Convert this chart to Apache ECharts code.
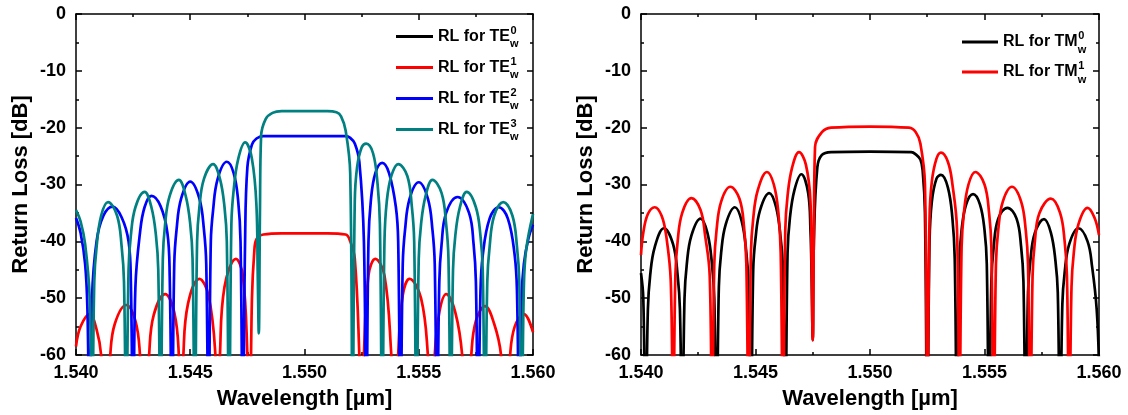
<!DOCTYPE html>
<html><head><meta charset="utf-8">
<script src="https://cdn.jsdelivr.net/npm/echarts@6/dist/echarts.min.js"></script>
<style>html,body{margin:0;padding:0;background:#fff}#c{width:1128px;height:415px}</style>
</head><body><div id="c"></div>
<script>
// ---------- data (wavelength in µm, return loss in dB) ----------
const xTicks = [1.540, 1.545, 1.550, 1.555, 1.560];
const yTicks = [-60, -50, -40, -30, -20, -10, 0];

// Left panel: TE modes
const te0X = [];   // TE0 curve lies below -60 dB: not visible in the reference
const te0Y = [];

const te1X = [1.5400,1.5402,1.5406,1.5409,1.5411,1.5413,
 1.5415,1.5417,1.5422,1.5426,1.5428,1.5430,
 1.5432,1.5434,1.5439,1.5443,1.5445,1.5446,
 1.5447,1.5449,1.5454,1.5458,1.5461,1.5462,
 1.5463,1.5465,1.5470,1.5473,1.5475,1.5476,
 1.5477,1.5478,1.5479,1.5482,1.5490,1.5510,1.5518,1.5520,1.5522,1.5524,1.5525,
 1.5526,1.5528,1.5531,1.5535,1.5538,1.5540,
 1.5541,1.5543,1.5546,1.5551,1.5554,1.5556,
 1.5557,1.5559,1.5562,1.5566,1.5569,1.5571,
 1.5573,1.5575,1.5579,1.5583,1.5586,1.5588,
 1.5590,1.5592,1.5596,1.5600];
const te1Y = [-58.5,-55,-52.8,-55.5,-60,-75,
 -60,-54.5,-51.2,-54,-60,-75,
 -60,-53,-49.3,-52.5,-60,-75,
 -60,-51,-46.6,-49.5,-60,-75,
 -60,-48,-43.1,-46,-60,-75,
 -50,-42,-39.6,-38.8,-38.6,-38.6,-38.8,-40,-43,-60,-75,
 -60,-46,-43.1,-46,-60,-75,
 -60,-49.5,-46.6,-50,-60,-75,
 -60,-52.5,-49.3,-52.5,-60,-75,
 -60,-54,-51.4,-54.5,-60,-75,
 -60,-55,-52.8,-56];

const te2X = [1.5400,1.5402,1.5404,1.5405,1.5406,
 1.5407,1.5409,1.5412,1.5416,1.5420,1.5423,1.5424,1.5425,
 1.5426,1.5428,1.5430,1.5433,1.5437,1.5440,1.5441,1.5442,
 1.5443,1.5444,1.5446,1.5450,1.5454,1.5456,1.5457,1.5458,
 1.5459,1.5460,1.5462,1.5466,1.5469,1.5471,1.5472,1.5473,
 1.5474,1.5475,1.5477,1.5479,1.5482,1.5500,1.5518,1.5520,1.5522,1.5524,1.5526,1.5527,
 1.5528,1.5529,1.5531,1.5534,1.5537,1.5540,1.5541,1.5542,
 1.5543,1.5544,1.5546,1.5550,1.5554,1.5556,1.5557,1.5558,
 1.5559,1.5560,1.5562,1.5567,1.5572,1.5574,1.5575,1.5576,
 1.5577,1.5578,1.5581,1.5585,1.5589,1.5592,1.5593,1.5594,
 1.5595,1.5596,1.5598,1.5600];
const te2Y = [-35.9,-38.5,-44,-52,-75,
 -50,-40,-35.5,-33.9,-35.8,-40,-47,-75,
 -48,-38.5,-34,-32.0,-33.8,-38.5,-46,-75,
 -44,-38,-32.5,-29.5,-32.5,-38,-44,-75,
 -40,-34.5,-29,-26.0,-28,-33,-40,-75,
 -40,-27,-23,-21.9,-21.5,-21.5,-21.5,-21.8,-22.8,-26,-40,-75,
 -40,-33,-28,-26.2,-28,-34,-40,-75,
 -44,-38,-32.5,-29.6,-32.5,-38,-44,-75,
 -47,-40.5,-35,-32.2,-35,-40.5,-47,-75,
 -49,-42.5,-36,-34.0,-36,-42.5,-49,-75,
 -50,-44,-39.5,-37.1];

const te3X = [1.5400,1.5402,1.5404,1.5406,1.5407,
 1.5408,1.5409,1.5411,1.5414,1.5418,1.5420,1.5421,1.5422,
 1.5423,1.5424,1.5426,1.5430,1.5433,1.5435,1.5436,1.5437,
 1.5438,1.5439,1.5441,1.5445,1.5448,1.5450,1.5451,1.5452,
 1.5453,1.5454,1.5456,1.5460,1.5463,1.5465,1.5466,1.5467,
 1.5468,1.5469,1.5471,1.5474,1.5477,1.5479,1.54795,1.5480,
 1.54805,1.5481,1.5483,1.5486,1.5490,1.5510,1.5514,1.5516,1.5518,1.5520,1.5521,
 1.5522,1.5523,1.5525,1.5527,1.5530,1.5532,1.5533,1.5534,
 1.5535,1.5536,1.5538,1.5541,1.5545,1.5547,1.5548,1.5549,
 1.5550,1.5551,1.5553,1.5556,1.5560,1.5562,1.5563,1.5564,
 1.5565,1.5566,1.5568,1.5571,1.5575,1.5577,1.5578,1.5579,
 1.5580,1.5581,1.5583,1.5587,1.5591,1.5593,1.5594,1.5595,
 1.5596,1.5597,1.5600];
const te3Y = [-34.5,-36.5,-40.5,-50,-75,
 -47,-41,-35.5,-33.1,-35.5,-41,-47,-75,
 -45,-39,-34,-31.3,-34,-39,-45,-75,
 -43,-37,-32,-29.2,-32,-37,-43,-75,
 -40,-34,-29,-26.4,-29,-34,-40,-75,
 -37,-31,-25.5,-22.6,-25.5,-34,-45,-56.2,
 -35,-21.5,-18.5,-17.4,-17.1,-17.1,-17.3,-18,-20.5,-28,-75,
 -33,-27,-23.5,-22.8,-24.5,-30,-37,-75,
 -40,-33,-28.5,-26.4,-28.5,-34,-40,-75,
 -43,-37,-32,-29.2,-31.5,-37,-43,-75,
 -45,-39,-34,-31.3,-34,-39,-45,-75,
 -47,-41,-35.5,-33.1,-35.5,-41,-47,-75,
 -48,-41.5,-35.2];

// Right panel: TM modes
const tm0X = [1.5400,1.5401,1.5402,
 1.5403,1.5404,1.5406,1.5410,1.5414,1.5416,1.5417,1.5418,
 1.5419,1.5420,1.5422,1.5426,1.5429,1.5431,1.5432,1.5433,
 1.5434,1.5435,1.5437,1.5441,1.5444,1.5446,1.5447,1.5448,
 1.5449,1.5450,1.5452,1.5456,1.5459,1.5461,1.5462,1.5463,
 1.5464,1.5465,1.5467,1.5470,1.5473,1.5474,1.54745,1.5475,
 1.54755,1.5477,1.5479,1.5483,1.5500,1.5518,1.5520,1.5522,1.5523,1.5524,1.5525,
 1.5526,1.5527,1.5529,1.5531,1.5534,1.5536,1.5537,1.5538,
 1.5539,1.5540,1.5542,1.5545,1.5548,1.5550,1.5551,1.5552,
 1.5553,1.5554,1.5556,1.5560,1.5564,1.5566,1.5567,1.5568,
 1.5569,1.5570,1.5572,1.5576,1.5579,1.5581,1.5582,1.5583,
 1.5584,1.5585,1.5587,1.5591,1.5595,1.5597,1.5599,1.5600];
const tm0Y = [-45.6,-50,-75,
 -52,-46,-41,-37.7,-40.5,-46,-52,-75,
 -50,-44,-39,-36.0,-38.5,-44,-50,-75,
 -48,-42,-37,-34.0,-36.5,-42,-48,-75,
 -45,-39.5,-34.5,-31.5,-34,-39.5,-45,-75,
 -42,-36,-31,-28.2,-31.5,-38,-46,-57.4,
 -40,-27,-24.8,-24.3,-24.2,-24.3,-24.7,-25.6,-27.5,-35,-75,
 -40,-33,-29,-28.3,-30.5,-36,-43,-75,
 -44,-38,-33.5,-31.7,-33.5,-38,-44,-75,
 -47,-41,-36,-34.1,-36,-41,-47,-75,
 -49,-43.5,-38.5,-36.1,-38.5,-43.5,-49,-75,
 -51,-45.5,-40.5,-37.7,-40,-44.5,-52,-62];

const tm1X = [1.5400,1.5401,1.5403,1.5406,1.5409,1.5411,1.5413,1.5414,
 1.5415,1.5416,1.5418,1.5422,1.5426,1.5428,1.5430,1.5431,
 1.5432,1.5433,1.5435,1.5439,1.5443,1.5445,1.5446,1.5447,
 1.5448,1.5449,1.5451,1.5455,1.5458,1.5460,1.5461,1.5462,
 1.5463,1.5464,1.5466,1.5469,1.5472,1.5474,1.54745,1.5475,
 1.54755,1.5476,1.5479,1.5483,1.5500,1.5517,1.5520,1.5522,1.5524,1.5525,
 1.5526,1.5527,1.5529,1.5531,1.5534,1.5536,1.5538,1.5539,
 1.5540,1.5541,1.5543,1.5546,1.5550,1.5552,1.5553,1.5554,
 1.5555,1.5556,1.5558,1.5562,1.5566,1.5568,1.5569,1.5570,
 1.5571,1.5572,1.5574,1.5579,1.5583,1.5585,1.5586,1.5587,
 1.5588,1.5589,1.5591,1.5595,1.5598,1.5600];
const tm1Y = [-42.4,-38.5,-35.2,-34.0,-35.5,-39,-47,-75,
 -46,-40,-35,-32.4,-34.5,-39,-46,-75,
 -44,-38,-33,-30.4,-32.5,-37.5,-44,-75,
 -42,-36,-31,-27.8,-30,-35,-42,-75,
 -38,-32,-27,-24.3,-26.5,-33,-44,-57.4,
 -38,-23.4,-20.8,-20.0,-19.8,-20.0,-20.8,-22.8,-30,-75,
 -36,-29.5,-25.5,-24.4,-26,-30,-38,-75,
 -41,-35,-30,-27.8,-30,-35,-41,-75,
 -44,-38,-33,-30.4,-33,-38,-44,-75,
 -46,-40,-35,-32.5,-35,-40,-46,-75,
 -48,-42,-37,-34.1,-35.8,-38.9];

const teNames = ['TE0','TE1','TE2','TE3'];
const tmNames = ['TM0','TM1'];
const teColors = ['#000000','#ff0000','#0000ff','#008080'];
const tmColors = ['#000000','#ff0000'];

// ---------- chart ----------
const FONT = '"Liberation Sans", Arial, sans-serif';
const pairs = (xs, ys) => xs.map((x, i) => [x, ys[i]]);
const axisLineStyle = {color:'#000', width:1.5};

function xAx(gi, pos, labels) {
  return {
    type:'value', gridIndex:gi, position:pos,
    min:xTicks[0], max:xTicks[xTicks.length-1], interval:xTicks[1]-xTicks[0],
    axisLine:{show:true, onZero:false, lineStyle:axisLineStyle},
    axisTick:{show:true, inside:true, length:6, lineStyle:axisLineStyle},
    minorTick:{show:true, splitNumber:2, length:3, lineStyle:axisLineStyle},
    splitLine:{show:false}, minorSplitLine:{show:false},
    axisLabel:{show:labels, showMinLabel:true, showMaxLabel:true, formatter:v=>v.toFixed(3),
      color:'#000', fontSize:18, fontWeight:'bold', fontFamily:FONT, margin:9},
    name: labels ? 'Wavelength [µm]' : '', nameLocation:'middle', nameGap:33,
    nameTextStyle:{color:'#000', fontSize:22, fontWeight:'bold', fontFamily:FONT}
  };
}
function yAx(gi, pos, labels) {
  return {
    type:'value', gridIndex:gi, position:pos,
    min:yTicks[0], max:yTicks[yTicks.length-1], interval:yTicks[1]-yTicks[0],
    axisLine:{show:true, onZero:false, lineStyle:axisLineStyle},
    axisTick:{show:true, inside:true, length:6, lineStyle:axisLineStyle},
    minorTick:{show:true, splitNumber:2, length:3, lineStyle:axisLineStyle},
    splitLine:{show:false}, minorSplitLine:{show:false},
    axisLabel:{show:labels, showMinLabel:true, showMaxLabel:true,
      color:'#000', fontSize:18, fontWeight:'bold', fontFamily:FONT, margin:10},
    name: labels ? 'Return Loss [dB]' : '', nameLocation:'middle', nameGap:44,
    nameTextStyle:{color:'#000', fontSize:22, fontWeight:'bold', fontFamily:FONT}
  };
}
function lineSeries(name, color, xs, ys, ai) {
  return {
    type:'line', name, xAxisIndex:ai, yAxisIndex:ai, data:pairs(xs, ys),
    symbol:'none', showSymbol:false, smooth:0.4, clip:true,
    color, itemStyle:{color}, lineStyle:{color, width:2.7}, emphasis:{disabled:true}
  };
}

const legendText = {fontSize:16, fontWeight:'bold', fontFamily:FONT, color:'#000', lineHeight:16};

// measure legend text width for the super/subscripts
const ctx = document.createElement('canvas').getContext('2d');
ctx.font = 'bold 16px "Liberation Sans"';
const wTE = ctx.measureText('RL for TE').width;
const wTM = ctx.measureText('RL for TM').width;

const graphics = [];
function addScripts(x0, rows, topCenter, gap, width) {
  rows.forEach((r, i) => {
    const cy = topCenter + i * gap;
    graphics.push({type:'text', x:x0 + width + 0.5, y:cy - 6, silent:true,
      style:{text:r, fill:'#000', font:'bold 11px "Liberation Sans"', align:'left', verticalAlign:'middle'}});
    graphics.push({type:'text', x:x0 + width, y:cy + 7.5, silent:true,
      style:{text:'w', fill:'#000', font:'bold 11px "Liberation Sans"', align:'left', verticalAlign:'middle'}});
  });
}
addScripts(438, teNames.map(n => n.slice(2)), 36.5, 31, wTE);
addScripts(1003, tmNames.map(n => n.slice(2)), 42, 30, wTM);

const option = {
  animation:false,
  backgroundColor:'#fff',
  grid:[
    {left:76, right:1128-533, top:14, bottom:415-355, containLabel:false, outerBoundsMode:'none'},
    {left:641, right:1128-1099, top:14, bottom:415-355, containLabel:false, outerBoundsMode:'none'}
  ],
  xAxis:[xAx(0,'bottom',true), xAx(0,'top',false), xAx(1,'bottom',true), xAx(1,'top',false)],
  yAxis:[yAx(0,'left',true), yAx(0,'right',false), yAx(1,'left',true), yAx(1,'right',false)],
  legend:[
    {data:teNames, orient:'vertical', left:396, top:28.5, padding:0, itemWidth:37, itemHeight:3,
     itemGap:15, icon:'rect', selectedMode:false, formatter:n=>'RL for TE', textStyle:legendText},
    {data:tmNames, orient:'vertical', left:962, top:34, padding:0, itemWidth:36, itemHeight:3,
     itemGap:14, icon:'rect', selectedMode:false, formatter:n=>'RL for TM', textStyle:legendText}
  ],
  graphic:graphics,
  series:[
    lineSeries('TE0', teColors[0], te0X, te0Y, 0),
    lineSeries('TE1', teColors[1], te1X, te1Y, 0),
    lineSeries('TE2', teColors[2], te2X, te2Y, 0),
    lineSeries('TE3', teColors[3], te3X, te3Y, 0),
    lineSeries('TM0', tmColors[0], tm0X, tm0Y, 2),
    lineSeries('TM1', tmColors[1], tm1X, tm1Y, 2)
  ]
};
const chart = echarts.init(document.getElementById('c'), null, {renderer:'canvas'});
chart.setOption(option);
</script>
</body></html>
